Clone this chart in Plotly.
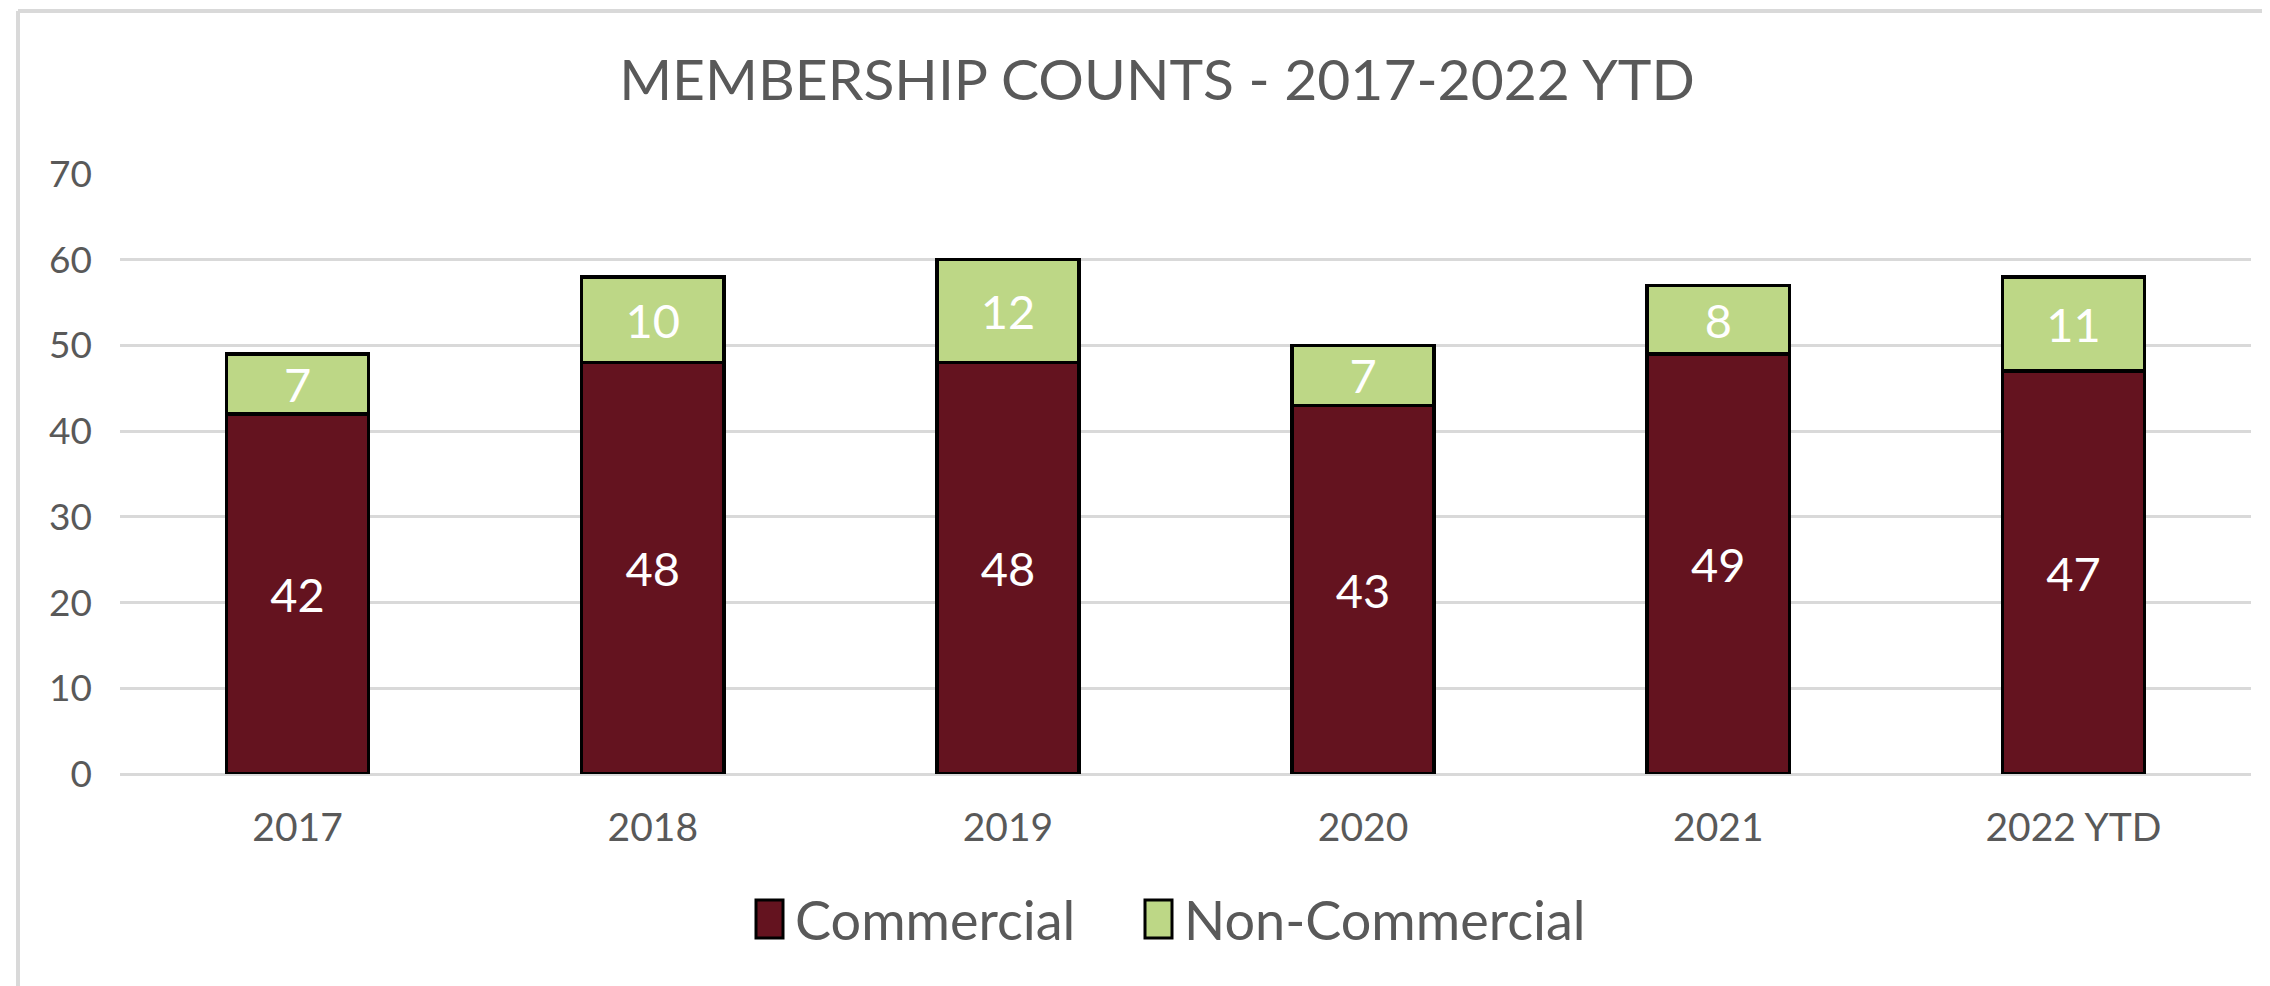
import plotly.graph_objects as go

categories = ["2017", "2018", "2019", "2020", "2021", "2022 YTD"]
commercial = [42, 48, 48, 43, 49, 47]
non_commercial = [7, 10, 12, 7, 8, 11]
series_names = ["Commercial", "Non-Commercial"]
series_colors = ["#64131F", "#BDD786"]
y_ticks = [0, 10, 20, 30, 40, 50, 60, 70]
title_text = "MEMBERSHIP COUNTS - 2017-2022 YTD"

# page body has an 8px margin, so the figure is 8px smaller than the window
W, H = 2262, 978
ML, MR, MT, MB = 112, 19, 166, 212
PW, PH = W - ML - MR, H - MT - MB

def px(x):
    return (x - ML) / PW

def py(y):
    return (H - MB - y) / PH

FONT = "Lato, 'Open Sans', sans-serif"
GREY = "#595959"

fig = go.Figure()
for name, vals, col in zip(series_names, [commercial, non_commercial], series_colors):
    fig.add_trace(go.Bar(
        x=categories, y=vals, name=name,
        marker=dict(color=col, line=dict(color="#000000", width=3.5)),
        text=[str(v) for v in vals], textposition="inside", textangle=0,
        insidetextanchor="middle", constraintext="none",
        textfont=dict(family=FONT, size=47, color="#FFFFFF"),
        hoverinfo="x+y+name",
    ))

shapes = [
    # chart border (top & left)
    dict(type="line", xref="paper", yref="paper", x0=px(10), x1=px(W + 5), y0=py(3), y1=py(3),
         line=dict(color="#D9D9D9", width=4), layer="above"),
    dict(type="line", xref="paper", yref="paper", x0=px(10), x1=px(10), y0=py(3), y1=py(H + 5),
         line=dict(color="#D9D9D9", width=4), layer="above"),
]
annotations = []
# custom legend
leg_marker_x = [748, 1137]
for name, col, mx in zip(series_names, series_colors, leg_marker_x):
    shapes.append(dict(type="rect", xref="paper", yref="paper",
                       x0=px(mx), x1=px(mx + 27), y0=py(930), y1=py(892),
                       fillcolor=col, line=dict(color="#000000", width=3)))
    annotations.append(dict(xref="paper", yref="paper", x=px(mx + 37), y=py(911),
                            xanchor="left", yanchor="middle", text=name, showarrow=False,
                            font=dict(family=FONT, size=54, color=GREY)))

fig.update_layout(
    width=W, height=H,
    margin=dict(l=ML, r=MR, t=MT, b=MB),
    barmode="stack", bargap=0.6,
    showlegend=False,
    plot_bgcolor="#FFFFFF", paper_bgcolor="#FFFFFF",
    title=dict(text=title_text, x=px(1149), xref="paper", xanchor="center",
               y=1 - 72 / H, yref="container", yanchor="middle",
               font=dict(family=FONT, size=57, color=GREY)),
    xaxis=dict(showgrid=False, showline=False, ticks="",
               tickfont=dict(family=FONT, size=39, color=GREY), ticklabelstandoff=27),
    yaxis=dict(range=[0, 70], tickvals=y_ticks, showgrid=True, gridcolor="#D9D9D9", gridwidth=3,
               zeroline=True, zerolinecolor="#D9D9D9", zerolinewidth=3, showline=False, ticks="",
               tickfont=dict(family=FONT, size=37, color=GREY), ticklabelstandoff=27),
    shapes=shapes, annotations=annotations,
)

fig.write_html("out.html")
